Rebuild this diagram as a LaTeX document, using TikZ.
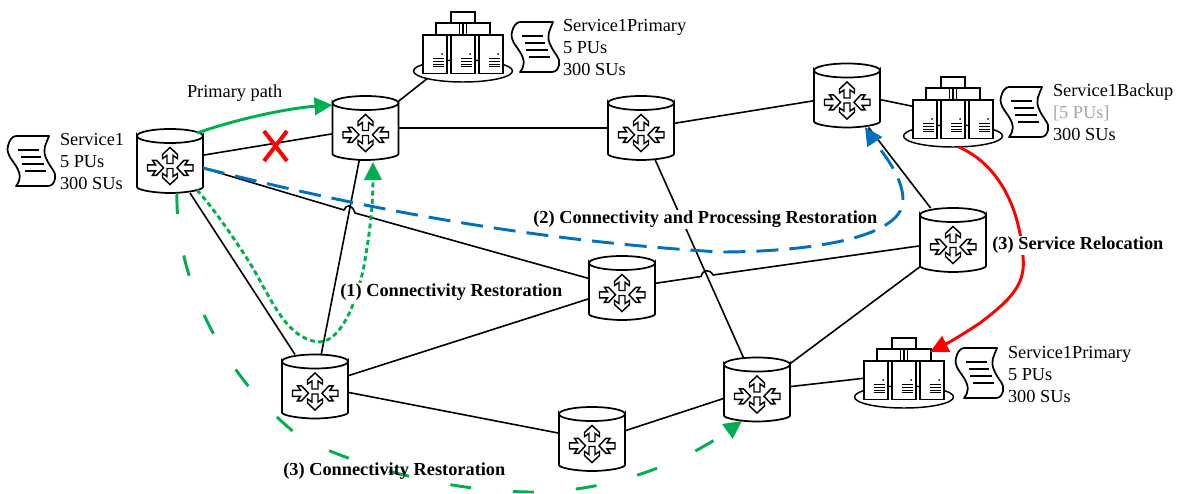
\documentclass[tikz,border=0pt]{standalone}
\usepackage{fontspec}
\setmainfont{Liberation Serif}
\usetikzlibrary{calc,arrows.meta,shapes.geometric}
\definecolor{pathgreen}{HTML}{00B050}
\definecolor{pathblue}{HTML}{0070C0}
\definecolor{softgray}{HTML}{A6A6A6}
\tikzset{
  rbox/.style={rectangle,minimum width=49.5pt,minimum height=48pt,inner sep=0pt,outer sep=0pt},
  srvring/.style={ellipse,draw,line width=1.1pt,fill=white,minimum width=74.25pt,minimum height=16.5pt,inner sep=0pt,outer sep=0pt},
  srvbox/.style={rectangle,minimum width=61.5pt,minimum height=29.25pt,inner sep=0pt,outer sep=0pt},
  link/.style={line width=1.2pt,line join=round},
  infotext/.style={anchor=west,align=left,inner sep=0pt,outer sep=0pt,font=\fontsize{13.75}{16.5}\selectfont},
  boldtext/.style={anchor=west,inner sep=1pt,outer sep=0pt,fill=white,font=\fontsize{13.75}{16.5}\selectfont\bfseries},
  boldplain/.style={anchor=west,inner sep=1pt,outer sep=0pt,font=\fontsize{13.75}{16.5}\selectfont\bfseries},
  bigtip/.style={-{Triangle[length=13.5pt,width=13pt]}},
  ra/.pic={
    \draw[line width=1.1pt,line join=miter,fill=white]
      (0,-3) -- (8,-3) -- (5,-7.5) -- (9,-7.5) -- (16,0) -- (9,7.5) -- (5,7.5) -- (8,3) -- (0,3) -- cycle;
  },
  router/.pic={
    \draw[line width=1.3pt,fill=white]
      (-33,-25) arc[start angle=180,end angle=0,x radius=33,y radius=7]
      -- (33,26) .. controls (33,29) and (15,32) .. (0,32) .. controls (-15,32) and (-33,29) .. (-33,26) -- cycle;
    \draw[line width=1.3pt] (-33,-25) arc[start angle=180,end angle=360,x radius=33,y radius=7];
    \begin{scope}[shift={(0,7)}]
      \pic[rotate=90] at (0,-4.5) {ra};
      \pic[rotate=-90] at (0,0.5) {ra};
      \pic at (-22.5,-0.2) {ra};
      \pic[rotate=180] at (23,-0.2) {ra};
    \end{scope}
  },
  unit/.pic={
    \draw[line width=1.3pt,fill=white] (-12.2,0) rectangle (12.2,38.5);
    \fill (7,19) circle[radius=1];
    \draw[line width=.6pt] (-2.5,23.5) -- (9,23.5) (-2.5,26) -- (9,26) (-2.5,29) -- (9,29) (-2.5,31.5) -- (9,31.5);
  },
  servers/.pic={
    \draw[line width=1.3pt,fill=white] (-12,-59) rectangle (12,-48);
    \draw[line width=1.3pt,fill=white] (-27,-48) rectangle (-3.5,-36);
    \draw[line width=1.3pt,fill=white] (3.5,-48) rectangle (27,-36);
    \draw[line width=.9pt] (0,-48) -- (0,-36);
    \pic at (-28,-36) {unit};
    \pic at (0,-36) {unit};
    \pic at (28,-36) {unit};
  },
  scrolldoc/.pic={
    \draw[line width=1.3pt,fill=white,line join=round]
      (8,0) -- (41,0) .. controls (38,8) and (34,13) .. (38,22)
      .. controls (42,32) and (49,36) .. (47,43) .. controls (46,47) and (44,50) .. (40,50)
      -- (8,50) .. controls (13,44) and (13,38) .. (8,30) .. controls (3,22) and (-2,18) .. (0,10) .. controls (1,5) and (4,0) .. (8,0) -- cycle;
    \draw[line width=1.3pt] (10,14) -- (31,14) (13,21) -- (33,21) (14,28) -- (36,28) (17,35) -- (38,35);
  }
}
\begin{document}
\begin{tikzpicture}[x=0.75pt,y=-0.75pt]
\useasboundingbox (0,0) rectangle (1177,493);
% node places
\node[rbox] (r1) at (170,161) {};
\node[rbox] (r2) at (365.5,128) {};
\node[rbox] (r3) at (641,128) {};
\node[rbox] (r4) at (847,95.5) {};
\node[rbox] (r5) at (953,240) {};
\node[rbox] (r6) at (622,288) {};
\node[rbox] (r7) at (315,386.5) {};
\node[rbox] (r8) at (592,439) {};
\node[rbox] (r9) at (757,389.5) {};
\node[srvring] (s1) at (463,71) {};
\node[srvring] (s2) at (953,136) {};
\node[srvring] (s3) at (904,397) {};
\node[srvbox] (s1b) at (463,54.5) {};
\node[srvbox] (s2b) at (953,119.5) {};
\node[srvbox] (s3b) at (904,380.5) {};
\coordinate (hopa) at (344,210);
\coordinate (hopb) at (355,213);
\coordinate (hopc) at (701,276.5);
\coordinate (hopd) at (713,275);
% connectors
\draw[link] (r1.10.3) -- (r2.190.4);
\draw[link] (r2.39.7) -- (s1.192);
\draw[link] (r2.east) -- (r3.west);
\draw[link] (r3.8.6) -- (r4.189.5);
\draw[link] (r4.-7.8) -- (s2b.162.4);
\draw[link] (r3.-66.4) -- (r9.113.6);
\draw[link] (r1.-12) -- (hopa) .. controls (346,204) and (352,204) .. (hopb) -- (r6.164.7);
\draw[link] (r1.-58) -- (r7.122);
\draw[link] (r2.-101.5) -- (r7.79.4);
\draw[link] (r7.18.4) -- (r6.198.4);
\draw[link] (r7.-10.3) -- (r8.170.5);
\draw[link] (r8.14.4) -- (r9.195.3);
\draw[link] (r6.8.6) -- (hopc) .. controls (703,269) and (710,269) .. (hopd) -- (r5.190.3);
\draw[link] (r5.125.7) -- (r4.-56.7);
\draw[link] (r5.219.3) -- (r9.38.2);
\draw[link] (r9.5.2) -- (s3b.177);
% failure mark
\coordinate (xa) at (264,131);
\coordinate (xb) at (287,161);
\coordinate (xc) at (287,131);
\coordinate (xd) at (264,161);
\draw[line width=3pt,red] (xa) -- (xb) (xc) -- (xd);
% equipment
\foreach \n in {r1,r2,r3,r4,r5,r6,r7,r8,r9} { \pic at (\n) {router}; }
\foreach \n in {s1,s2,s3} { \pic at (\n) {servers}; }
\pic at (8,136) {scrolldoc};
\pic at (512,22) {scrolldoc};
\pic at (1001,87) {scrolldoc};
\pic at (956,348) {scrolldoc};
% restoration paths
\draw[line width=2.2pt,pathgreen,bigtip]
  ($(r1)+(27,-28)$) .. controls (240,118) and (290,108) .. ($(r2)+(-33,-23)$);
\draw[line width=2.2pt,pathgreen,bigtip,dash pattern=on 3.7pt off 2.5pt]
  ($(r1)+(27,29)$) .. controls (215,210) and (235,240) .. (248,260)
  .. controls (270,295) and (285,340) .. (320,342)
  .. controls (345,340) and (360,290) .. (365,260)
  .. controls (371,225) and (373,200) .. ($(r2)+(7.5,34)$);
\draw[line width=2.2pt,pathblue,dash pattern=on 16.5pt off 8.25pt,bigtip]
  ($(r1)+(33,7)$) .. controls (350,205) and (520,240) .. (720,252)
  .. controls (800,252) and (903,240) .. (903,200)
  .. controls (903,175) and (880,150) .. ($(r4)+(18,31.5)$);
\draw[line width=2.2pt,pathgreen,bigtip,dash pattern=on 15.75pt off 31.5pt]
  ($(r1)+(7,32)$) .. controls (175,270) and (215,370) .. (300,437)
  .. controls (355,466) and (450,493) .. (540,492)
  .. controls (610,490) and (680,465) .. ($(r9)+(-15,31.5)$);
\draw[line width=2.2pt,red,bigtip]
  (s2.-63) .. controls (1000,165) and (1020,210) .. (1023,257)
  .. controls (1026,285) and (1010,300) .. (980,323)
  .. controls (965,333) and (950,342) .. ($(s3)+(26,-45)$);
% texts
\node[infotext] (t1) at (60,161.5) {Service1\\5 PUs\\300 SUs};
\node[infotext] (t2) at (563,47.5) {Service1Primary\\5 PUs\\300 SUs};
\node[infotext] (t3) at (1053,112.5) {Service1Backup\\\textcolor{softgray}{[5 PUs]}\\300 SUs};
\node[infotext] (t4) at (1008,374.5) {Service1Primary\\5 PUs\\300 SUs};
\node[infotext] (t5) at (187,93.5) {Primary path};
\node[boldtext] (l1) at (339,292.5) {(1) Connectivity Restoration};
\node[boldtext] (l2) at (532,219.5) {(2) Connectivity and Processing Restoration};
\node[boldtext] (l3) at (991,245.5) {(3) Service Relocation};
\node[boldplain] (l4) at (282,471.5) {(3) Connectivity Restoration};
\end{tikzpicture}
\end{document}
